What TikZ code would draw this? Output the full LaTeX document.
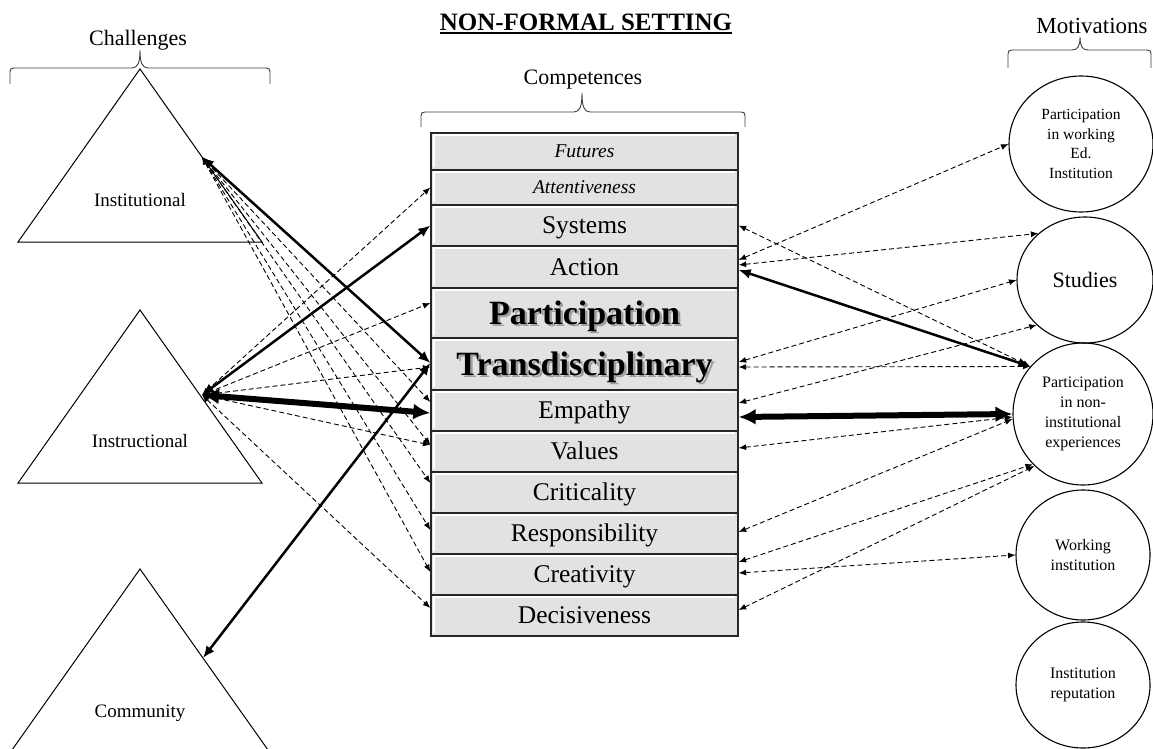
\documentclass[tikz,border=0pt]{standalone}
\usepackage{fontspec}
\setmainfont{Liberation Serif}
\usetikzlibrary{arrows.meta,shapes.geometric}
\definecolor{rowgray}{HTML}{E2E2E2}
\newcommand\fsz[2]{\fontsize{#1}{#2}\selectfont}
\newcommand\shadowed[1]{\rlap{\kern2.5pt\raisebox{-2.5pt}{\color{gray!75}#1}}#1}
\tikzset{
 rowbox/.style={draw=black!85, line width=1.3pt, fill=rowgray, minimum width=307pt, inner sep=0pt, font=\fsz{25.5}{30}, text height=16.8pt, text depth=0pt},
 bigrow/.style={rowbox, font=\fsz{34}{40}\bfseries, text height=22.6pt},
 itrow/.style={rowbox, font=\fsz{19.5}{23}\itshape, text height=12.9pt},
 mot/.style={ellipse, draw, line width=1.1pt, align=center, inner sep=0pt},
 lbl/.style={inner sep=0pt},
 dl/.style={line width=0.9pt, dash pattern=on 5pt off 3pt, {Latex[length=7.5pt,width=6pt]}-{Latex[length=7.5pt,width=6pt]}},
 tl/.style={line width=2.5pt, {Latex[length=12pt,width=10pt]}-{Latex[length=12pt,width=10pt]}},
 hl/.style={line width=6pt, {Latex[length=17pt,width=16pt]}-{Latex[length=17pt,width=16pt]}},
 tri/.style={line width=1pt},
 brc/.style={line width=0.9pt, black!75},
}
\begin{document}
\begin{tikzpicture}[x=1pt,y=-1pt]
\fill[white] (0,0) rectangle (1153,749);
\useasboundingbox (0,0) rectangle (1153,749);

% title
\node[lbl, font=\fsz{25}{29}\bfseries] (title) at (586,22) {NON-FORMAL SETTING};
\draw[line width=1.6pt] ([yshift=-3pt]title.base west) -- ([yshift=-3pt]title.base east);

% labels and braces
\node[lbl, font=\fsz{22}{26}] (challenges) at (138,40) {Challenges};
\node[lbl, font=\fsz{22}{26}] (competences) at (583,80) {Competences};
\node[lbl, font=\fsz{23}{27}] (motivations) at (1092,26) {Motivations};

\draw[brc] (10,84) -- (10,72) .. controls (10,69) and (11,68) .. (14,68) -- (132,68)
  .. controls (138,68) and (140,62) .. (140,50) .. controls (140,62) and (142,68) .. (148,68)
  -- (266,68) .. controls (269,68) and (270,69) .. (270,72) -- (270,84);
\draw[brc] (421,127) -- (421,116) .. controls (421,113) and (422,112) .. (425,112) -- (574,112)
  .. controls (580,112) and (582,106) .. (582,93) .. controls (582,106) and (584,112) .. (590,112)
  -- (741,112) .. controls (744,112) and (745,113) .. (745,116) -- (745,127);
\draw[brc] (1008,68) -- (1008,54) .. controls (1008,51) and (1009,50) .. (1012,50) -- (1072,50)
  .. controls (1078,50) and (1080,46) .. (1080,37) .. controls (1080,46) and (1082,50) .. (1088,50)
  -- (1147,50) .. controls (1150,50) and (1151,51) .. (1151,54) -- (1151,68);

% triangles
\draw[tri] (140,69) -- (262,242) -- (18,242) -- cycle;
\draw[tri] (140,310) -- (262,483) -- (18,483) -- cycle;
\draw[tri] (140,569) -- (273,757) -- (7,757) -- cycle;
\node[lbl, font=\fsz{19}{23}] (inst) at (140,200) {Institutional};
\node[lbl, font=\fsz{19}{23}] (instr) at (140,441) {Instructional};
\node[lbl, font=\fsz{19}{23}] (comm) at (140,713) {Community};
\coordinate (pI) at (202,157);
\coordinate (pS) at (202,395);
\coordinate (pC) at (203,658);

% competences column
\node[itrow, minimum height=37pt] (fut) at (584.5,151.5) {Futures};
\node[itrow, minimum height=35pt] (att) at (584.5,187.5) {Attentiveness};
\node[rowbox, minimum height=41pt] (sys) at (584.5,225.5) {Systems};
\node[rowbox, minimum height=42pt] (act) at (584.5,267) {Action};
\node[bigrow, minimum height=50pt] (par) at (584.5,313) {\shadowed{Participation}};
\node[bigrow, minimum height=52pt] (tra) at (584.5,364) {\shadowed{Transdisciplinary}};
\node[rowbox, minimum height=41pt] (emp) at (584.5,410.5) {Empathy};
\node[rowbox, minimum height=41pt] (val) at (584.5,451.5) {Values};
\node[rowbox, minimum height=41pt] (cri) at (584.5,492.5) {Criticality};
\node[rowbox, minimum height=41pt] (res) at (584.5,533.5) {Responsibility};
\node[rowbox, minimum height=41pt] (cre) at (584.5,574.5) {Creativity};
\node[rowbox, minimum height=41pt] (dec) at (584.5,615.5) {Decisiveness};
\foreach \r in {fut,att,sys,act,par,tra,emp,val,cri,res,cre,dec}{
  \draw[white, line width=2pt] ([xshift=3.5pt,yshift=4pt]\r.south west) |- ([xshift=-4pt,yshift=-3pt]\r.north east);
}

% motivations
\node[mot, minimum width=144pt, minimum height=136pt, font=\fsz{15.5}{19.5}] (m1) at (1081,144) {Participation\\in working\\Ed.\\Institution};
\node[mot, minimum width=136pt, minimum height=126pt, font=\fsz{22}{26}] (stu) at (1085,280) {Studies};
\node[mot, minimum width=140pt, minimum height=142pt, font=\fsz{16}{20}] (pni) at (1083,414) {Participation\\in non-\\institutional\\experiences};
\node[mot, minimum width=134pt, minimum height=130pt, font=\fsz{16}{20}] (wor) at (1083,555) {Working\\institution};
\node[mot, minimum width=134pt, minimum height=126pt, font=\fsz{16}{20}] (rep) at (1083,685) {Institution\\reputation};

% left connectors
\draw[dl] (pI) -- ([yshift=8.5pt]emp.west);
\draw[dl] (pI) -- ([yshift=6.5pt]val.west);
\draw[dl] (pI) -- ([yshift=9.5pt]cri.west);
\draw[dl] (pI) -- ([yshift=3.5pt]res.west);
\draw[dl] (pI) -- ([yshift=2.5pt]cre.west);
\draw[dl] (pS) -- (att.west);
\draw[dl] (pS) -- ([yshift=10pt]par.west);
\draw[dl] (pS) -- ([yshift=-3pt]tra.west);
\draw[dl] (pS) -- ([yshift=6.5pt]val.west);
\draw[dl] (pS) -- ([yshift=7.5pt]dec.west);
\draw[tl] (pI) -- ([yshift=1pt]tra.west);
\draw[tl] (pS) -- (sys.west);
\draw[tl] (pC) -- ([yshift=1pt]tra.west);
\draw[hl] (pS) -- ([yshift=-2.5pt]emp.west);

% right connectors
\draw[dl] ([yshift=7pt]act.east) -- (m1.west);
\draw[dl] ([yshift=2pt]act.east) -- (stu.135);
\draw[dl] (sys.east) -- (pni.138);
\draw[dl] ([yshift=2pt]tra.east) -- (stu.west);
\draw[dl] ([yshift=-3pt]tra.east) -- (pni.138);
\draw[dl] ([yshift=7.5pt]emp.east) -- (stu.223);
\draw[dl] ([yshift=3.5pt]val.east) -- ([yshift=-3pt]pni.west);
\draw[dl] ([yshift=1.5pt]res.east) -- ([yshift=-5pt]pni.west);
\draw[dl] ([yshift=12.5pt]cre.east) -- (pni.225);
\draw[dl] ([yshift=1.5pt]cre.east) -- (wor.west);
\draw[dl] ([yshift=5.5pt]dec.east) -- (pni.227);
\draw[tl] ([yshift=-3pt]act.east) -- (pni.138);
\draw[hl] ([yshift=-6.5pt]emp.east) -- (pni.west);
\end{tikzpicture}
\end{document}
